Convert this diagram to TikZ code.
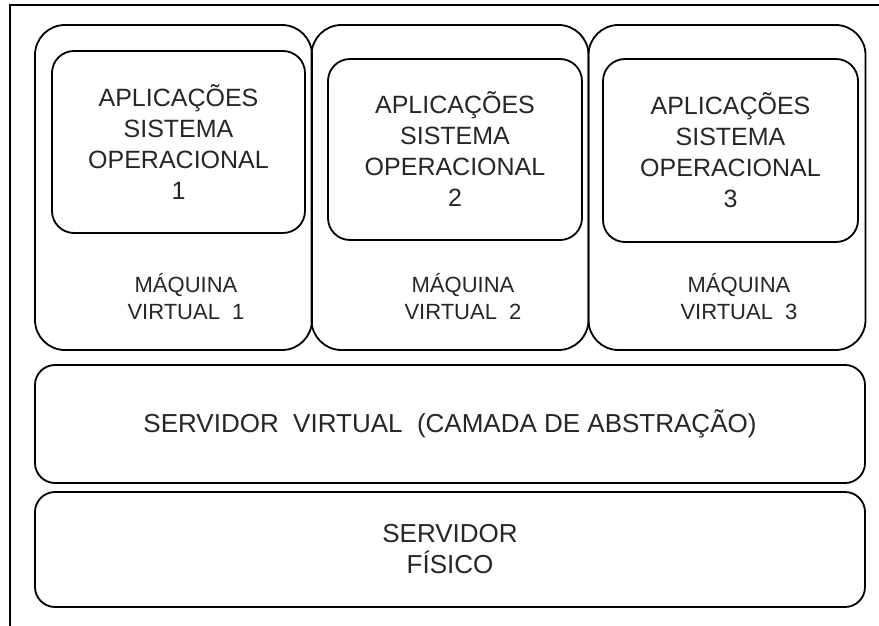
\documentclass[tikz,border=0pt]{standalone}
\usepackage{fontspec}
\setmainfont{Liberation Sans}

\tikzset{
  box/.style={draw, line width=1.8pt, rounded corners=#1, inner sep=0pt, align=center, text=black!85},
  box/.default=22pt,
  vmtext/.style={font=\fontsize{25}{31}\selectfont},
  vmlabel/.style={align=center, text=black!85, font=\fontsize{22}{27}\selectfont},
  srvtext/.style={font=\fontsize{26}{31}\selectfont}
}

\begin{document}
\begin{tikzpicture}[x=1pt, y=-1pt]
    \useasboundingbox (0,0) rectangle (879,626);
    % Draw the frame
    \draw[line width=1.3pt] (10,626) -- (10,5) -- (879,5);
    % Draw the virtual machines
    \node[box=30pt, minimum width=277pt, minimum height=325pt] (vm1) at (173.5,187.5) {};
    \node[box=30pt, minimum width=277pt, minimum height=325pt] (vm2) at (450,187.5) {};
    \node[box=30pt, minimum width=277pt, minimum height=325pt] (vm3) at (727,187.5) {};
    % Draw the guest systems
    \node[box, vmtext, minimum width=253pt, minimum height=182pt] (so1) at (178.5,142) {APLICAÇÕES\\SISTEMA\\OPERACIONAL\\1};
    \node[box, vmtext, minimum width=254pt, minimum height=181pt] (so2) at (455,149.5) {APLICAÇÕES\\SISTEMA\\OPERACIONAL\\2};
    \node[box, vmtext, minimum width=255pt, minimum height=183pt] (so3) at (730.5,150.5) {APLICAÇÕES\\SISTEMA\\OPERACIONAL\\3};
    % Draw the machine labels
    \node[vmlabel] (lbl1) at (186,297) {MÁQUINA\\VIRTUAL\ \ 1};
    \node[vmlabel] (lbl2) at (463,297) {MÁQUINA\\VIRTUAL\ \ 2};
    \node[vmlabel] (lbl3) at (739,297) {MÁQUINA\\VIRTUAL\ \ 3};
    % Draw the server layers
    \node[box=20pt, srvtext, minimum width=830pt, minimum height=118pt] (virt) at (450,424) {SERVIDOR\ \ VIRTUAL\ \ (CAMADA DE ABSTRAÇÃO)};
    \node[box=20pt, srvtext, minimum width=830pt, minimum height=115pt] (fis) at (450,549.5) {SERVIDOR\\FÍSICO};
\end{tikzpicture}
\end{document}
